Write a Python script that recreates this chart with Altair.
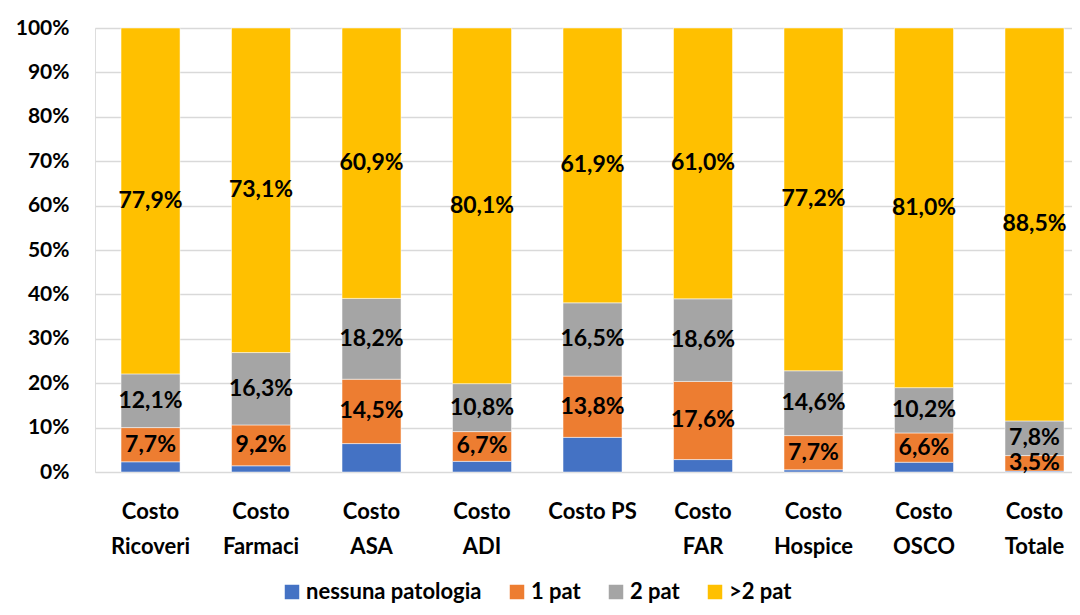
import altair as alt
import pandas as pd

categories = ["Costo|Ricoveri", "Costo|Farmaci", "Costo|ASA", "Costo|ADI", "Costo PS",
              "Costo|FAR", "Costo|Hospice", "Costo|OSCO", "Costo|Totale"]
series = ["nessuna patologia", "1 pat", "2 pat", ">2 pat"]
colors = ["#4472C4", "#ED7D31", "#A5A5A5", "#FFC000"]

nessuna = [2.3, 1.4, 6.4, 2.4, 7.8, 2.8, 0.5, 2.2, 0.2]
pat1 = [7.7, 9.2, 14.5, 6.7, 13.8, 17.6, 7.7, 6.6, 3.5]
pat2 = [12.1, 16.3, 18.2, 10.8, 16.5, 18.6, 14.6, 10.2, 7.8]
pat3 = [77.9, 73.1, 60.9, 80.1, 61.9, 61.0, 77.2, 81.0, 88.5]

rows = []
for s_i, (s, vals) in enumerate(zip(series, [nessuna, pat1, pat2, pat3])):
    for c, v in zip(categories, vals):
        rows.append({"cat": c, "serie": s, "ord": s_i, "v": v})
df = pd.DataFrame(rows)

FONT = "Lato"

base = alt.Chart(df).transform_stack(
    stack="v", groupby=["cat"], as_=["y0", "y1"], sort=[alt.SortField("ord", order="ascending")]
).transform_calculate(
    f0="datum.y0/100", f1="datum.y1/100", fm="(datum.y0+datum.y1)/200",
    lbl="replace(format(datum.v, '.1f'), '.', ',') + '%'"
)

x = alt.X("cat:N", sort=categories, title=None,
          scale=alt.Scale(paddingInner=0.466, paddingOuter=0.154, align=0.765),
          axis=alt.Axis(labelExpr="split(datum.label, '|')", labelAngle=0, labelFont=FONT,
                        labelFontSize=22, labelFontWeight="bold", labelColor="#000000",
                        labelLineHeight=35, labelPadding=39, ticks=False, domain=False,
                        labelBaseline="middle"))

bars = base.mark_bar(stroke="white", strokeWidth=0.5).encode(
    x=x,
    y=alt.Y("f0:Q", title=None, scale=alt.Scale(domain=[0, 1], nice=False),
            axis=alt.Axis(format=".0%", values=[i / 10 for i in range(11)], labelFont=FONT,
                          labelFontSize=21, labelFontWeight="bold", labelColor="#000000",
                          ticks=False, domain=False, labelPadding=26, gridColor="#D9D9D9",
                          gridWidth=1.5)),
    y2="f1:Q",
    color=alt.Color("serie:N", sort=series, scale=alt.Scale(domain=series, range=colors),
                    legend=alt.Legend(title=None, orient="none", direction="horizontal",
                                      legendX=186, legendY=553, symbolType="square",
                                      symbolSize=210, symbolStrokeWidth=0, labelFont=FONT,
                                      labelFontSize=22, labelFontWeight="bold",
                                      labelColor="#000000", columnPadding=24,
                                      labelOffset=3, labelLimit=400)),
)

text = base.transform_filter("datum.ord > 0").mark_text(
    font=FONT, fontSize=23, fontWeight="bold", color="#000000", baseline="middle"
).encode(
    x=alt.X("cat:N", sort=categories),
    y=alt.Y("fm:Q"),
    text="lbl:N",
)

chart = alt.layer(bars, text).properties(
    width=977, height=444,
    autosize=alt.AutoSizeParams(type="none"),
    padding={"left": 87, "top": 20, "right": 0, "bottom": 135},
).configure_view(stroke=None).configure(background="white")

chart.save("out.html", embed_options={"renderer": "svg", "actions": False})
